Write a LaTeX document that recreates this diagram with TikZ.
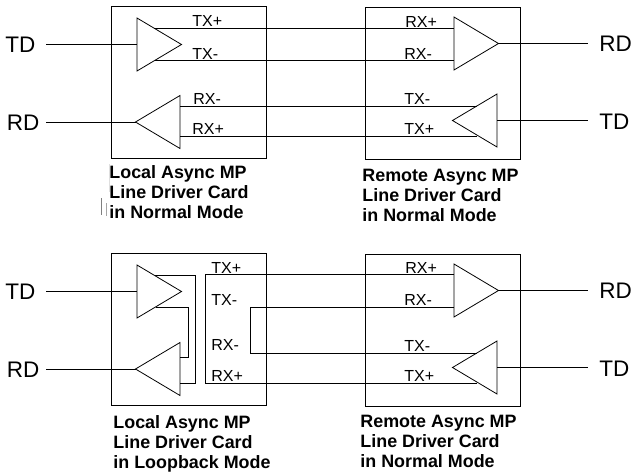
\documentclass[tikz,border=0pt]{standalone}
\usepackage{fontspec}
\setmainfont{Liberation Sans}
\usetikzlibrary{shapes.geometric}
\tikzset{
    card/.style={draw,rectangle,inner sep=0,outer sep=0,minimum width=155pt,minimum height=152pt},
    ampR/.style={draw,isosceles triangle,isosceles triangle stretches,inner sep=0,outer sep=0,minimum width=53pt,minimum height=44.5pt,anchor=lower side},
    ampL/.style={ampR,shape border rotate=180},
    sig/.style={inner sep=0,anchor=base west,font=\fontsize{16}{18}\selectfont},
    port/.style={inner sep=0,anchor=base west,font=\fontsize{22.5}{24}\selectfont},
    caption/.style={inner sep=0,anchor=north west,align=left,font=\fontsize{17.9}{20}\selectfont\bfseries},
}
\begin{document}
\begin{tikzpicture}[x=1pt,y=-1pt,line width=0.8pt]
    \useasboundingbox (0,0) rectangle (632,474);
    % Card boxes
    \node[card,anchor=north west] (localA) at (111.5,6.5) {};
    \node[card,anchor=north west] (remoteA) at (365,7) {};
    \node[card,anchor=north west] (localB) at (111.5,253) {};
    \node[card,anchor=north west] (remoteB) at (365,254) {};

    % Drivers and receivers, top pair
    \node[ampR] (ltx) at (137,44.5) {};
    \node[ampL] (lrx) at (180,122) {};
    \node[ampR] (rrx) at (454,43.5) {};
    \node[ampL] (rtx) at (497,120.5) {};
    % Drivers and receivers, bottom pair
    \node[ampR] (ltxB) at (137,291.5) {};
    \node[ampL] (lrxB) at (180,369) {};
    \node[ampR] (rrxB) at (454,290.5) {};
    \node[ampL] (rtxB) at (497,367.5) {};

    % Pin points and free line ends
    \foreach \n/\x/\y in {
        tdA/46/44.5, rdA/46/122, rdB/588/43.5, tdB/588/120.5,
        tdC/46/291.5, rdC/46/369, rdD/588/290.5, tdD/588/367.5,
        p1/154/28, p2/454/28, p3/155/60.5, p4/454/60.5,
        p5/180/106.5, p6/477/106.5, p7/180/136.5, p8/477/136.5,
        q1/154.5/275, q2/195.5/275, q3/195.5/383, q4/180/383,
        q5/155.5/307, q6/188/307, q7/188/357, q8/180/357,
        q9/454/274.5, q10/205.5/274.5, q11/205.5/383.5, q12/477/383.5,
        q13/454/307, q14/250/307, q15/250/353.5, q16/477/353.5}
    \coordinate (\n) at (\x,\y);

    % Port lines
    \draw (tdA) -- (ltx.lower side);
    \draw (rdA) -- (lrx.apex);
    \draw (rrx.apex) -- (rdB);
    \draw (rtx.lower side) -- (tdB);
    \draw (tdC) -- (ltxB.lower side);
    \draw (rdC) -- (lrxB.apex);
    \draw (rrxB.apex) -- (rdD);
    \draw (rtxB.lower side) -- (tdD);

    % Pairs between the cards
    \draw (p1) -- (p2);
    \draw (p3) -- (p4);
    \draw (p5) -- (p6);
    \draw (p7) -- (p8);

    % Loopback wiring
    \draw (q1) -- (q2) -- (q3) -- (q4);
    \draw (q5) -- (q6) -- (q7) -- (q8);
    \draw (q9) -- (q10) -- (q11) -- (q12);
    \draw (q13) -- (q14) -- (q15) -- (q16);

    % Port names
    \node[port] (tdAl) at (5,52) {TD};
    \node[port] (rdAl) at (6.5,130) {RD};
    \node[port] (rdBl) at (599,51) {RD};
    \node[port] (tdBl) at (599,129) {TD};
    \node[port] (tdCl) at (5,299) {TD};
    \node[port] (rdCl) at (6.5,377) {RD};
    \node[port] (rdDl) at (599,298) {RD};
    \node[port] (tdDl) at (599,376) {TD};

    % Signal names
    \foreach \n/\x/\y/\t in {
        a1/192/26.5/TX+, a2/192/59/TX-, a3/193/104/RX-, a4/192/134/RX+,
        b1/405/27/RX+, b2/404/59/RX-, b3/404/104/TX-, b4/404/134/TX+,
        c1/211/273/TX+, c2/211/305/TX-, c3/211/350/RX-, c4/211/381/RX+,
        d1/405/273/RX+, d2/404/305/RX-, d3/404/351/TX-, d4/404/381/TX+}
    \node[sig] (\n) at (\x,\y) {\t};

    % Card captions
    \node[caption] (capA) at (109,165) {Local Async MP\\Line Driver Card\\in Normal Mode};
    \node[caption] (capB) at (362,169) {Remote Async MP\\Line Driver Card\\in Normal Mode};
    \node[caption] (capC) at (113,415) {Local Async MP\\Line Driver Card\\in Loopback Mode};
    \node[caption] (capD) at (360,415) {Remote Async MP\\Line Driver Card\\in Normal Mode};

    % Stray marks left of the first caption
    \draw[gray,line width=0.7pt] (101,198) -- (101,215);
    \draw[gray!70,line width=0.7pt] (106,203) -- (106,216);
    \draw[gray!25,line width=0.5pt] (109,164) -- (109,192);
\end{tikzpicture}
\end{document}
